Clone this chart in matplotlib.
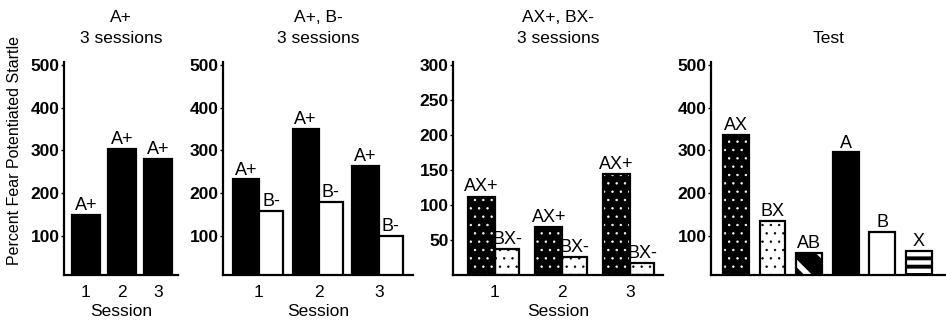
import numpy as np
import matplotlib.pyplot as plt

plt.rcParams['font.family'] = ['Liberation Sans', 'DejaVu Sans']
plt.rcParams['hatch.linewidth'] = 0.6

# training sessions
sessions = [1, 2, 3]
a_only = [149, 304, 280]          # A+ alone
ab_a = [232, 351, 264]            # A+ with B-
ab_b = [158, 179, 100]            # B- with A+
axbx_ax = [112, 68, 144]          # AX+
axbx_bx = [37, 25, 17]            # BX-

# test session
test_names = ['AX', 'BX', 'AB', 'A', 'B', 'X']
test_vals = [337, 135, 60, 295, 108, 65]

# fill style for each cue: (face, hatch, hatch colour)
styles = {
    'A': ('black', None, None),
    'B': ('white', None, None),
    'AX': ('black', '..', 'white'),
    'BX': ('white', '..', 'black'),
    'AB': ('black', '\\', 'white'),
    'X': ('black', '--', 'white'),
}
hatch_lw = {'..': 0.5, '\\': 4.0, '--': 3.2}


def draw_bars(ax, xs, vals, width, cue, labels):
    face, hatch, hcol = styles[cue]
    if hatch:
        bars = ax.bar(xs, vals, width, color=face, edgecolor=hcol,
                      hatch=hatch, linewidth=0, zorder=2)
        for b in bars:
            if hasattr(b, 'set_hatch_linewidth'):
                b.set_hatch_linewidth(hatch_lw[hatch])
        ax.bar(xs, vals, width, fill=False, edgecolor='black',
               linewidth=1.6, zorder=3)
    else:
        ax.bar(xs, vals, width, color=face, edgecolor='black',
               linewidth=1.6, zorder=2)
    for x, v, t in zip(xs, vals, labels):
        ax.text(x, v + 2, t, ha='center', va='bottom', fontsize=13)


def style_axes(ax, yticks, ylim, xlim):
    ax.set_ylim(*ylim)
    ax.set_xlim(*xlim)
    ax.set_yticks(yticks)
    for s in ['top', 'right']:
        ax.spines[s].set_visible(False)
    for s in ['left', 'bottom']:
        ax.spines[s].set_linewidth(1.6)
    ax.tick_params(axis='y', length=2.5, width=1, pad=0.5, labelsize=12.5)
    ax.tick_params(axis='x', length=0, pad=7, labelsize=12.5)
    for lab in ax.get_yticklabels():
        lab.set_fontweight('bold')


fig = plt.figure(figsize=(9.46, 3.23), dpi=100)
bot, hgt = 1 - 275 / 323, 213 / 323

ax1 = fig.add_axes([64 / 946, bot, 114 / 946, hgt])
ax2 = fig.add_axes([223 / 946, bot, 190 / 946, hgt])
ax3 = fig.add_axes([453 / 946, bot, 210 / 946, hgt])
ax4 = fig.add_axes([711 / 946, bot, 235 / 946, hgt])

y500 = [100, 200, 300, 400, 500]

# A+ only
draw_bars(ax1, sessions, a_only, 0.76, 'A', ['A+'] * 3)
style_axes(ax1, y500, (8, 507), (0.39, 3.56))
ax1.set_xticks(sessions)
ax1.set_xlabel('Session', fontsize=12.5, labelpad=3)
ax1.set_ylabel('Percent Fear Potentiated Startle', fontsize=11.5)
ax1.yaxis.set_label_coords(-0.37, 0.585)
ax1.set_title('A+\n3 sessions', fontsize=12.5, linespacing=1.5, pad=14)

# A+, B- discrimination
s = np.array(sessions)
draw_bars(ax2, s - 0.22, ab_a, 0.44, 'A', ['A+'] * 3)
draw_bars(ax2, s + 0.2, ab_b, 0.40, 'B', ['B-'] * 3)
style_axes(ax2, y500, (8, 507), (0.4, 3.57))
ax2.set_xticks(sessions)
ax2.set_xlabel('Session', fontsize=12.5, labelpad=3)
ax2.set_title('A+, B-\n3 sessions', fontsize=12.5, linespacing=1.5, pad=14)

# AX+, BX- discrimination
draw_bars(ax3, s - 0.2, axbx_ax, 0.40, 'AX', ['AX+'] * 3)
draw_bars(ax3, s + 0.18, axbx_bx, 0.36, 'BX', ['BX-'] * 3)
style_axes(ax3, [50, 100, 150, 200, 250, 300], (0, 304), (0.38, 3.49))
ax3.set_xticks(sessions)
ax3.set_xlabel('Session', fontsize=12.5, labelpad=3)
ax3.set_title('AX+, BX-\n3 sessions', fontsize=12.5, linespacing=1.5, pad=14)

# test
pos = np.arange(len(test_names))
for i, name in enumerate(test_names):
    draw_bars(ax4, [pos[i]], [test_vals[i]], 0.71, name, [name])
style_axes(ax4, y500, (8, 507), (-0.68, 5.74))
ax4.set_xticks([])
ax4.set_title('Test', fontsize=12.5, pad=14)

fig.savefig('out.png', dpi=100)
